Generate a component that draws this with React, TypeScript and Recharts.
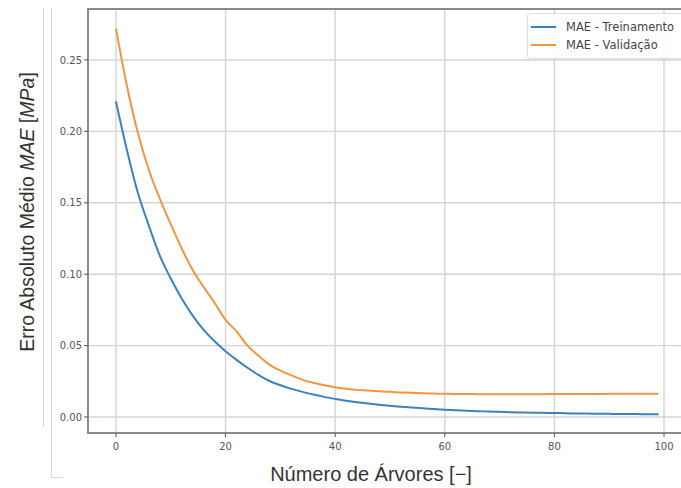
import React from 'react';
import { LineChart, Line, XAxis, YAxis, CartesianGrid, Legend, ReferenceArea } from 'recharts';

// number of trees (sampled every 2, plus the last one)
const trees = [
  0, 2, 4, 6, 8, 10, 12, 14, 16, 18, 20, 22, 24, 26, 28, 30, 32, 34, 36, 38,
  40, 42, 44, 46, 48, 50, 52, 54, 56, 58, 60, 62, 64, 66, 68, 70, 72, 74, 76, 78,
  80, 82, 84, 86, 88, 90, 92, 94, 96, 98, 99,
];

const maeTrain = [
  0.221, 0.187, 0.157, 0.134, 0.113, 0.097, 0.083, 0.071, 0.061, 0.053,
  0.046, 0.040, 0.0345, 0.0295, 0.0252, 0.0222, 0.0197, 0.0176, 0.0157, 0.0141,
  0.0127, 0.0114, 0.0103, 0.0094, 0.0086, 0.0079, 0.0072, 0.0066, 0.0061, 0.0056,
  0.0051, 0.0047, 0.0044, 0.0041, 0.0038, 0.0036, 0.0034, 0.0032, 0.0030, 0.0029,
  0.0028, 0.0026, 0.0025, 0.0024, 0.0023, 0.0022, 0.0021, 0.0021, 0.0020, 0.0020,
  0.0019,
];

const maeVal = [
  0.272, 0.232, 0.199, 0.173, 0.153, 0.135, 0.118, 0.103, 0.091, 0.080,
  0.068, 0.060, 0.050, 0.043, 0.0367, 0.0325, 0.0292, 0.0262, 0.0240, 0.0222,
  0.0208, 0.0198, 0.0190, 0.0185, 0.0180, 0.0176, 0.0172, 0.0169, 0.0166, 0.0164,
  0.0162, 0.0161, 0.0161, 0.0160, 0.0160, 0.0160, 0.0160, 0.0160, 0.0160, 0.0160,
  0.0161, 0.0161, 0.0161, 0.0161, 0.0161, 0.0162, 0.0162, 0.0162, 0.0162, 0.0162,
  0.0162,
];

const xTicks = [0, 20, 40, 60, 80, 100];
const yTicks = [0, 0.05, 0.1, 0.15, 0.2, 0.25];

const seriesNames = ['MAE - Treinamento', 'MAE - Validação'];
const BLUE = '#3a83c0';
const ORANGE = '#f5943f';
const FONT = '"DejaVu Sans", sans-serif';
const LABEL_FONT = '"Liberation Sans", Arial, sans-serif';

const X_DOMAIN: [number, number] = [-5.1, 106.2];
const Y_DOMAIN: [number, number] = [-0.0112, 0.2857];

const data = trees.map((n, i) => ({ n, train: maeTrain[i], val: maeVal[i] }));

const LegendBox = () => (
  <div
    style={{
      border: '1px solid #dedede',
      borderRadius: 3,
      background: 'rgba(255,255,255,0.85)',
      padding: '4px 0 4px 3px',
      fontFamily: FONT,
      fontSize: 11.5,
      color: '#444',
      width: 170,
      boxSizing: 'border-box',
    }}
  >
    {[BLUE, ORANGE].map((c, i) => (
      <div key={i} style={{ display: 'flex', alignItems: 'center', height: 18 }}>
        <div style={{ width: 25, height: 2, background: c, marginRight: 10 }} />
        <span>{seriesNames[i]}</span>
      </div>
    ))}
  </div>
);

const YLabel = () => (
  <text
    x={0}
    y={0}
    transform="translate(26, 204) rotate(-90)"
    textAnchor="middle"
    fontFamily={LABEL_FONT}
    fontSize={19.5}
    fill="#333"
  >
    Erro Absoluto Médio <tspan fontStyle="italic">MAE</tspan> [<tspan fontStyle="italic">MPa</tspan>]
  </text>
);

const XLabel = () => (
  <text x={363} y={473} textAnchor="middle" fontFamily={LABEL_FONT} fontSize={20} fill="#333">
    Número de Árvores [−]
  </text>
);

export default function App() {
  return (
    <div style={{ position: 'relative', width: 681, height: 488, overflow: 'hidden' }}>
      <style>{'html, body { margin: 0; padding: 0; overflow: hidden; }'}</style>
      <div style={{ position: 'absolute', left: 8, top: 8, width: 673, height: 480, overflow: 'hidden' }}>
        {/* faint page edges visible in the scanned figure */}
        <div style={{ position: 'absolute', left: 35, top: -3, width: 0, height: 422, borderLeft: '1px solid #d6d6d6' }} />
        <div style={{ position: 'absolute', left: 43, top: -3, width: 11, height: 472, borderLeft: '1px solid #d6d6d6', borderBottom: '1px solid #d6d6d6' }} />
        <LineChart width={690} height={480} data={data} margin={{ top: 1, right: 0, bottom: 0, left: 0 }}>
          <CartesianGrid stroke="#d4d4d4" strokeWidth={1.4} horizontalValues={yTicks} verticalValues={xTicks} />
          <XAxis
            dataKey="n"
            type="number"
            domain={X_DOMAIN}
            ticks={xTicks}
            allowDataOverflow
            height={55}
            axisLine={false}
            tickLine={{ stroke: '#555' }}
            tickSize={4}
            tick={{ fontSize: 10, fill: '#555', fontFamily: FONT, dy: 4 }}
            label={<XLabel />}
          />
          <YAxis
            type="number"
            domain={Y_DOMAIN}
            ticks={yTicks}
            allowDataOverflow
            width={80}
            axisLine={false}
            tickLine={{ stroke: '#555' }}
            tickSize={4}
            tickFormatter={(v: number) => v.toFixed(2)}
            tick={{ fontSize: 10, fill: '#555', fontFamily: FONT }}
            label={<YLabel />}
          />
          <ReferenceArea
            x1={X_DOMAIN[0]}
            x2={X_DOMAIN[1]}
            y1={Y_DOMAIN[0]}
            y2={Y_DOMAIN[1]}
            fill="none"
            stroke="#8a8a8a"
            strokeWidth={2}
            ifOverflow="visible"
          />
          <Line
            type="monotone"
            dataKey="train"
            name={seriesNames[0]}
            stroke={BLUE}
            strokeWidth={2}
            dot={false}
            isAnimationActive={false}
          />
          <Line
            type="monotone"
            dataKey="val"
            name={seriesNames[1]}
            stroke={ORANGE}
            strokeWidth={2}
            dot={false}
            isAnimationActive={false}
          />
          <Legend
            layout="horizontal"
            verticalAlign="middle"
            align="center"
            content={<LegendBox />}
            wrapperStyle={{ position: 'absolute', left: 519, top: 5, width: 170 }}
          />
        </LineChart>
      </div>
    </div>
  );
}
